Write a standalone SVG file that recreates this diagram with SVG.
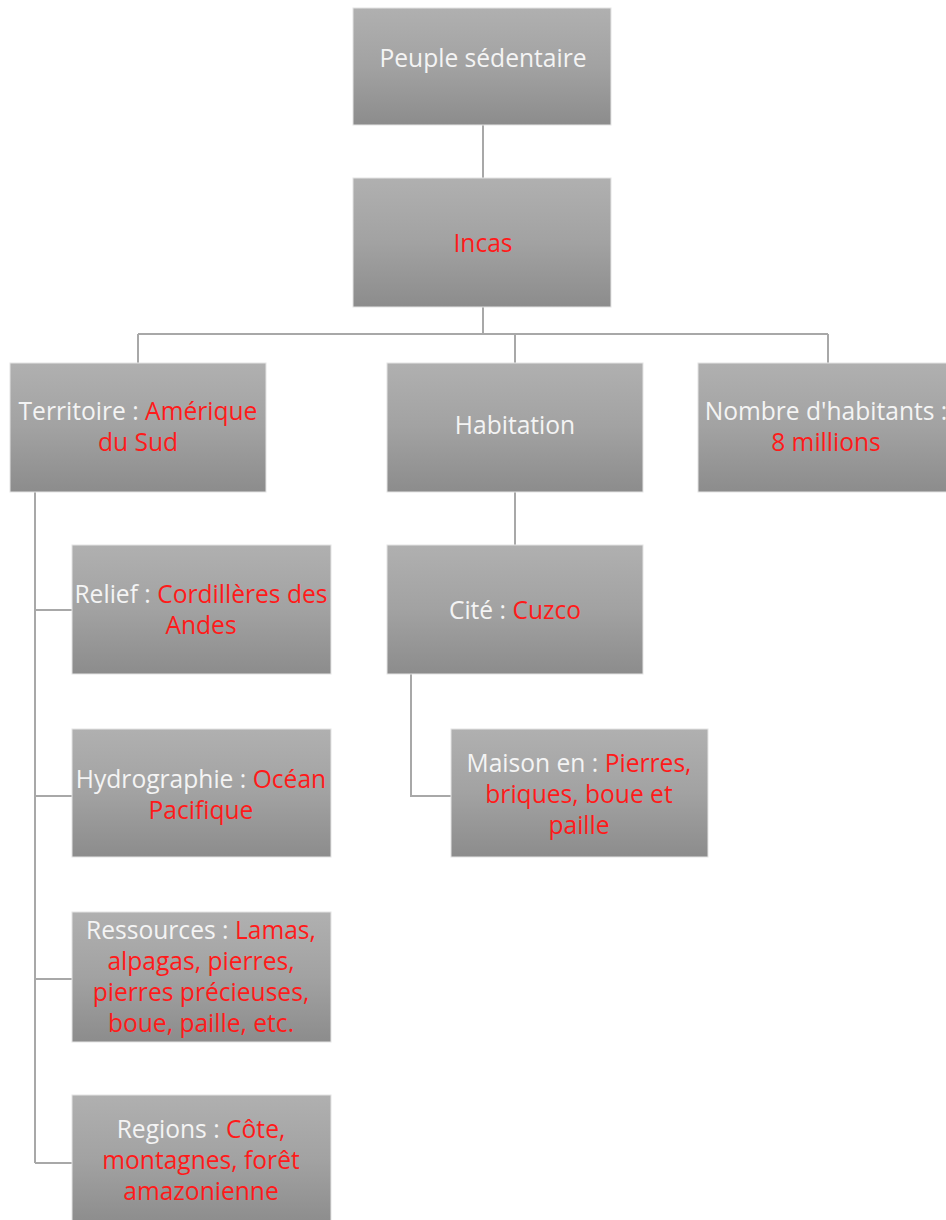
<svg xmlns="http://www.w3.org/2000/svg" width="946" height="1220" viewBox="0 0 946 1220">
<defs>
<linearGradient id="g" x1="0" y1="0" x2="0" y2="1">
<stop offset="0" stop-color="#b0b0b0"/>
<stop offset="0.5" stop-color="#a2a2a2"/>
<stop offset="1" stop-color="#8c8c8c"/>
</linearGradient>
</defs>
<style>
.box{fill:url(#g);stroke:#e4e4e4;stroke-width:1}
text{font-family:"Open Sans","DejaVu Sans",sans-serif;font-size:24.6px;text-anchor:middle}
.w{fill:#f4f4f4}
.r{fill:#ff1a1a}
.c{fill:none;stroke:#a8a8a8;stroke-width:2}
</style>
<rect width="946" height="1220" fill="#ffffff"/>
<g id="connectors">
<path class="c" d="M483 125V178"/>
<path class="c" d="M483 307V334M138 334H828M138 334V363M515 334V363M828 334V363"/>
<path class="c" d="M35 492V1163M35 610H72M35 796H72M35 979H72M35 1163H72"/>
<path class="c" d="M515 492V545"/>
<path class="c" d="M411 674V796H451"/>
</g>
<g id="peuple">
<rect class="box" x="353" y="8" width="258" height="117"/>
<text x="483" y="67" class="w">Peuple sédentaire</text>
</g>
<g id="incas">
<rect class="box" x="353" y="178" width="258" height="129"/>
<text x="483" y="252" class="r">Incas</text>
</g>
<g id="territoire">
<rect class="box" x="10" y="363" width="256" height="129"/>
<text x="138" y="420"><tspan class="w">Territoire : </tspan><tspan class="r">Amérique</tspan></text>
<text x="138" y="451" class="r">du Sud</text>
</g>
<g id="habitation">
<rect class="box" x="387" y="363" width="256" height="129"/>
<text x="515" y="434" class="w">Habitation</text>
</g>
<g id="nombre">
<rect class="box" x="698" y="363" width="258" height="129"/>
<text x="826" y="420" class="w">Nombre d'habitants :</text>
<text x="826" y="451" class="r">8 millions</text>
</g>
<g id="relief">
<rect class="box" x="72" y="545" width="259" height="129"/>
<text x="201" y="603"><tspan class="w">Relief : </tspan><tspan class="r">Cordillères des</tspan></text>
<text x="201" y="634" class="r">Andes</text>
</g>
<g id="cite">
<rect class="box" x="387" y="545" width="256" height="129"/>
<text x="515" y="619"><tspan class="w">Cité : </tspan><tspan class="r">Cuzco</tspan></text>
</g>
<g id="hydrographie">
<rect class="box" x="72" y="729" width="259" height="128"/>
<text x="201" y="788"><tspan class="w">Hydrographie : </tspan><tspan class="r">Océan</tspan></text>
<text x="201" y="819" class="r">Pacifique</text>
</g>
<g id="maison">
<rect class="box" x="451" y="729" width="257" height="128"/>
<text x="579" y="772"><tspan class="w">Maison en : </tspan><tspan class="r">Pierres,</tspan></text>
<text x="579" y="803" class="r">briques, boue et</text>
<text x="579" y="834" class="r">paille</text>
</g>
<g id="ressources">
<rect class="box" x="72" y="912" width="259" height="130"/>
<text x="201" y="939"><tspan class="w">Ressources : </tspan><tspan class="r">Lamas,</tspan></text>
<text x="201" y="970" class="r">alpagas, pierres,</text>
<text x="201" y="1001" class="r">pierres précieuses,</text>
<text x="201" y="1032" class="r">boue, paille, etc.</text>
</g>
<g id="regions">
<rect class="box" x="72" y="1095" width="259" height="130"/>
<text x="201" y="1138"><tspan class="w">Regions : </tspan><tspan class="r">Côte,</tspan></text>
<text x="201" y="1169" class="r">montagnes, forêt</text>
<text x="201" y="1200" class="r">amazonienne</text>
</g>
</svg>
